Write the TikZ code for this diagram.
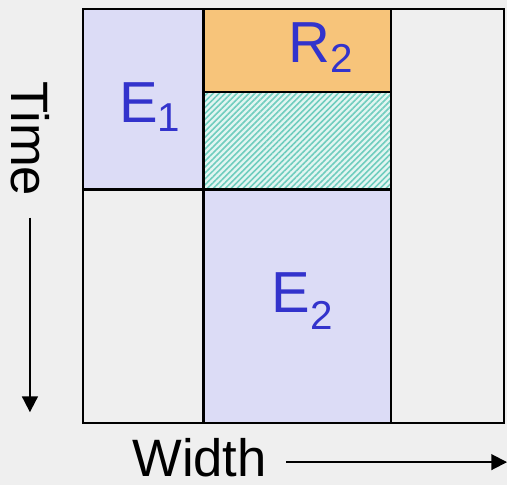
\documentclass[tikz,border=0pt]{standalone}
\usepackage{fontspec}
\setmainfont{Liberation Sans}
\usepackage{xcolor}
\definecolor{vizBack}{HTML}{EFEFEF}
\definecolor{vizExec}{HTML}{DCDCF6}
\definecolor{vizRecon}{HTML}{F7C47A}
\definecolor{vizHatch}{HTML}{6FCDBE}
\definecolor{vizHatchBg}{HTML}{E2F5F1}
\definecolor{vizText}{HTML}{3333CC}
\usetikzlibrary{arrows.meta,patterns.meta}
\newcommand{\sublbl}[3]{{\fontsize{33}{36}\selectfont #1\raisebox{-#3}{\fontsize{23}{24}\selectfont #2}}}

\begin{document}
\begin{tikzpicture}[line width=1.4pt]
  \filldraw[fill=vizBack, draw=none] (0cm,0cm) rectangle (10.16cm,-9.72cm);
  \filldraw[fill=vizExec] (1.66cm,-0.18cm) rectangle (4.08cm,-3.8cm);
  \filldraw[fill=vizRecon] (4.08cm,-0.18cm) rectangle (7.84cm,-1.84cm);
  \filldraw[fill=vizHatchBg] (4.08cm,-1.84cm) rectangle (7.84cm,-3.8cm);
  \fill[pattern={Lines[angle=45,distance=2.4pt,line width=0.9pt]}, pattern color=vizHatch] (4.08cm,-1.84cm) rectangle (7.84cm,-3.8cm);
  \draw (4.08cm,-1.84cm) rectangle (7.84cm,-3.8cm);
  \filldraw[fill=vizExec] (4.08cm,-3.8cm) rectangle (7.84cm,-8.48cm);
  \draw (1.66cm,-0.18cm) rectangle (10.1cm,-8.48cm);
  \node[anchor=base, text=vizText, inner sep=0pt] (e1) at (3.0cm,-2.46cm) {\sublbl{E}{1}{5pt}};
  \node[anchor=base, text=vizText, inner sep=0pt] (r2) at (6.42cm,-1.26cm) {\sublbl{R}{2}{5.5pt}};
  \node[anchor=base, text=vizText, inner sep=0pt] (e2) at (6.06cm,-6.26cm) {\sublbl{E}{2}{9.5pt}};
  \node[anchor=base, rotate=-90, inner sep=0pt, font=\fontsize{30}{36}\selectfont] (time) at (0.24cm,-2.78cm) {Time};
  \node[anchor=base, inner sep=0pt, font=\fontsize{30}{36}\selectfont] (width) at (4.0cm,-9.54cm) {Width};
  \coordinate (t0) at (0.6cm,-4.36cm);
  \coordinate (t1) at (0.6cm,-8.26cm);
  \coordinate (w0) at (5.74cm,-9.26cm);
  \coordinate (w1) at (10.16cm,-9.26cm);
  \draw[line width=1.1pt, -{Triangle[length=9pt,width=9pt]}] (t0) -- (t1);
  \draw[line width=1.1pt, -{Triangle[length=9pt,width=9pt]}] (w0) -- (w1);
\end{tikzpicture}
\end{document}
